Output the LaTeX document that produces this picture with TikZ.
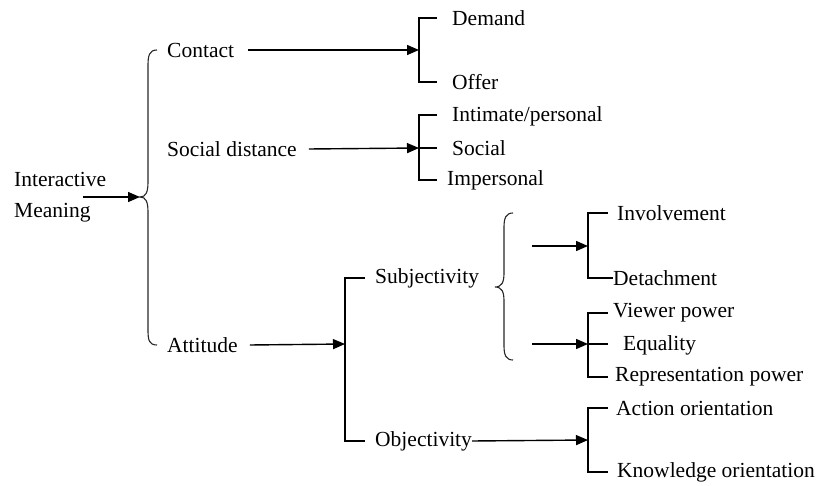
\documentclass[tikz,border=0pt]{standalone}
\usepackage{fontspec}
\setmainfont{Liberation Serif}
\usetikzlibrary{arrows.meta}
\tikzset{
  lbl/.style={anchor=west, inner sep=0pt, font=\fontsize{21.5}{31}\selectfont},
  conn/.style={line width=1.4pt},
  arr/.style={conn, -{Triangle[length=12pt,width=10pt]}},
  bracecurve/.style={line width=1.1pt, black!85},
}
\begin{document}
\begin{tikzpicture}[x=1pt,y=-1pt]
\path[use as bounding box] (0,0) rectangle (819,486);

% root
\node[lbl, align=left] (im) at (14,197) {Interactive\\Meaning};
\coordinate (imArr) at (83,197);
\coordinate (tip1) at (140,197);
\draw[arr] (imArr) -- (tip1);
\draw[bracecurve] (157,50) .. controls (149,50) and (148,56) .. (148,66) -- (148,182)
  .. controls (148,192) and (146,197) .. (tip1)
  .. controls (146,197) and (148,202) .. (148,212) -- (148,330)
  .. controls (148,340) and (149,345) .. (157,345);

% first level
\node[lbl] (contact) at (167,50) {Contact};
\node[lbl] (social) at (167,149) {Social distance};
\node[lbl] (attitude) at (167,345) {Attitude};

% contact
\coordinate (b1) at (419,50);
\coordinate (b1t) at (419,18);
\coordinate (b1b) at (419,82);
\draw[arr] ([xshift=14]contact.east) -- (b1);
\node[lbl] (demand) at (452,18) {Demand};
\node[lbl] (offer) at (452,82) {Offer};
\draw[conn] (437,18) -- (b1t) -- (b1b) -- (437,82);

% social distance
\coordinate (b2) at (419,148);
\coordinate (b2t) at (419,115);
\coordinate (b2b) at (419,180);
\draw[arr] ([xshift=12]social.east) -- (b2);
\node[lbl] (intimate) at (452,116) {Intimate/personal};
\node[lbl] (socialv) at (452,148) {Social};
\node[lbl] (imperson) at (447,180) {Impersonal};
\draw[conn] (437,115) -- (b2t) -- (b2b) -- (437,180);
\draw[conn] (b2) -- (437,148);

% attitude
\coordinate (b3) at (345,344);
\coordinate (b3t) at (345,278);
\coordinate (b3b) at (345,441);
\draw[arr] ([xshift=12]attitude.east) -- (b3);
\node[lbl] (subj) at (375,278) {Subjectivity};
\node[lbl] (obj) at (375,441) {Objectivity};
\draw[conn] (365,278) -- (b3t) -- (b3b) -- (365,441);

% subjectivity brace
\coordinate (tip2) at (495,287);
\draw[bracecurve] (513,213) .. controls (506,213) and (504,218) .. (504,227) -- (504,273)
  .. controls (504,282) and (502,287) .. (tip2)
  .. controls (502,287) and (504,292) .. (504,301) -- (504,346)
  .. controls (504,355) and (506,360) .. (513,360);

% involvement / detachment
\coordinate (a4) at (532,246);
\coordinate (b4) at (588,246);
\coordinate (b4t) at (588,213);
\coordinate (b4b) at (588,278);
\draw[arr] (a4) -- (b4);
\node[lbl] (involve) at (617,213) {Involvement};
\node[lbl] (detach) at (613,278) {Detachment};
\draw[conn] (608,213) -- (b4t) -- (b4b) -- (detach.west);

% power
\coordinate (a5) at (532,344);
\coordinate (b5) at (588,344);
\coordinate (b5t) at (588,313);
\coordinate (b5b) at (588,377);
\draw[arr] (a5) -- (b5);
\node[lbl] (viewer) at (613,313) {Viewer power};
\node[lbl] (equal) at (623,345) {Equality};
\node[lbl] (repr) at (615,377) {Representation power};
\draw[conn] (608,313) -- (b5t) -- (b5b) -- (608,377);
\draw[conn] (b5) -- (608,344);

% objectivity
\coordinate (b6) at (588,440);
\coordinate (b6t) at (588,408);
\coordinate (b6b) at (588,472);
\draw[arr] (obj.east) -- (b6);
\node[lbl] (action) at (616,408) {Action orientation};
\node[lbl] (know) at (617,472) {Knowledge orientation};
\draw[conn] (608,408) -- (b6t) -- (b6b) -- (608,472);
\end{tikzpicture}
\end{document}
